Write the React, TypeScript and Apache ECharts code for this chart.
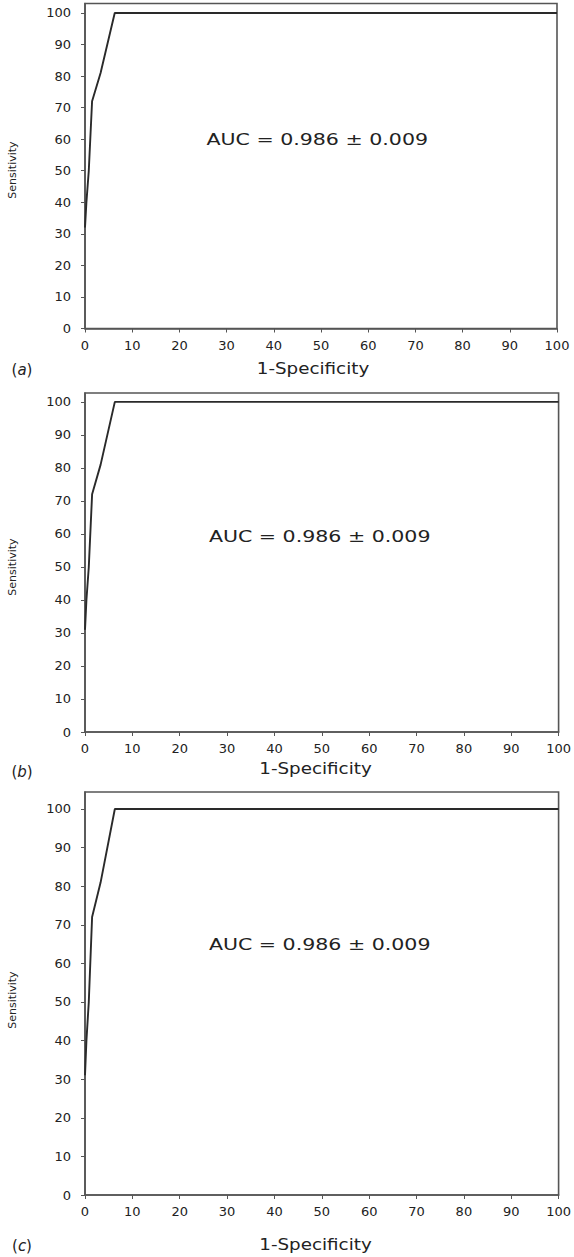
import React, { useEffect, useRef } from "react";
import * as echarts from "echarts";

// ROC curve values (1-Specificity %, Sensitivity %)
const fprA = [0, 0.3, 0.8, 1.5, 3.3, 6.3, 100];
const tprA = [32, 40, 50, 72, 81, 100, 100];
const fprB = [0, 0.3, 0.8, 1.5, 3.3, 6.3, 100];
const tprB = [31, 40, 50, 72, 81, 100, 100];
const fprC = [0, 0.3, 0.8, 1.5, 3.3, 6.3, 100];
const tprC = [31, 40, 50, 72, 81, 100, 100];

const panelLabels = ["a", "b", "c"];
const aucText = "AUC = 0.986 \u00B1 0.009";
const xTitle = "1-Specificity";
const yTitle = "Sensitivity";
const yMaxes = [103, 102.7, 104.4];

const grids = [
  { left: 85, top: 3.5, width: 472, height: 325 },
  { left: 85, top: 393, width: 477, height: 339 },
  { left: 85, top: 792, width: 477, height: 403 },
];

const textPos = [
  { auc: 140, xt: 369, lab: 370, yt: 170 },
  { auc: 537, xt: 769, lab: 772, yt: 567 },
  { auc: 945, xt: 1245, lab: 1246, yt: 1000 },
];

const AXIS = "#555";
const FONT = "DejaVu Sans";

export default function App() {
  const ref = useRef<HTMLDivElement>(null);
  useEffect(() => {
    if (!ref.current) return;
    const chart = echarts.init(ref.current, undefined, { renderer: "svg" });
    const series = [
      [fprA, tprA],
      [fprB, tprB],
      [fprC, tprC],
    ].map(([xs, ys], i) => ({
      type: "line",
      xAxisIndex: i,
      yAxisIndex: i,
      data: xs.map((x, j) => [x, ys[j]]),
      symbol: "none",
      lineStyle: { color: "#2a2a2a", width: 1.9 },
    }));
    const xAxis = grids.map((_, i) => ({
      type: "value",
      gridIndex: i,
      min: 0,
      max: 100,
      interval: 10,
      splitLine: { show: false },
      axisLine: { show: true, lineStyle: { color: AXIS, width: 1.6 } },
      axisTick: { show: true, length: 4, lineStyle: { color: AXIS } },
      axisLabel: { color: "#222", fontSize: 13, fontFamily: FONT, margin: 10 },
    }));
    const yAxis = grids.map((_, i) => ({
      type: "value",
      gridIndex: i,
      min: 0,
      max: yMaxes[i],
      interval: 10,
      splitLine: { show: false },
      axisLine: { show: true, lineStyle: { color: AXIS, width: 1.6 } },
      axisTick: { show: true, length: 4, lineStyle: { color: AXIS } },
      axisLabel: {
        color: "#222",
        fontSize: 13,
        fontFamily: FONT,
        margin: 14,
        showMaxLabel: false,
        formatter: (v: number) => (v % 10 === 0 && v <= 100 ? String(v) : ""),
      },
    }));
    const graphic: any[] = [];
    grids.forEach((g, i) => {
      const tp = textPos[i];
      const cx = g.left + g.width * 0.492;
      graphic.push({
        type: "text",
        x: cx,
        y: tp.auc,
        scaleX: 1.37,
        style: {
          text: aucText,
          fontSize: 15,
          fontFamily: FONT,
          fill: "#222",
          align: "center",
          verticalAlign: "middle",
        },
      });
      graphic.push({
        type: "text",
        x: g.left + g.width / 2 - 8,
        y: tp.xt,
        scaleX: 1.22,
        style: {
          text: xTitle,
          fontSize: 15,
          fontFamily: FONT,
          fill: "#222",
          align: "center",
          verticalAlign: "middle",
        },
      });
      graphic.push({
        type: "text",
        x: 12,
        y: tp.yt,
        rotation: Math.PI / 2,
        style: {
          text: yTitle,
          fontSize: 11,
          fontFamily: FONT,
          fill: "#222",
          align: "center",
          verticalAlign: "middle",
        },
      });
      graphic.push({
        type: "text",
        x: 22,
        y: tp.lab,
        style: {
          text: "{p|(}{i|" + panelLabels[i] + "}{p|)}",
          align: "center",
          verticalAlign: "middle",
          rich: {
            p: { fontSize: 15, fontFamily: FONT, fill: "#222" },
            i: { fontSize: 15, fontFamily: FONT, fontStyle: "italic", fill: "#222" },
          },
        },
      });
    });
    chart.setOption({
      animation: false,
      backgroundColor: "#fff",
      grid: grids.map((g) => ({
        ...g,
        show: true,
        borderColor: AXIS,
        borderWidth: 1.6,
        backgroundColor: "transparent",
      })),
      xAxis,
      yAxis,
      series,
      graphic,
    });
    return () => chart.dispose();
  }, []);
  return (
    <div
      ref={ref}
      style={{ position: "absolute", left: 0, top: 0, width: 574, height: 1257 }}
    />
  );
}
